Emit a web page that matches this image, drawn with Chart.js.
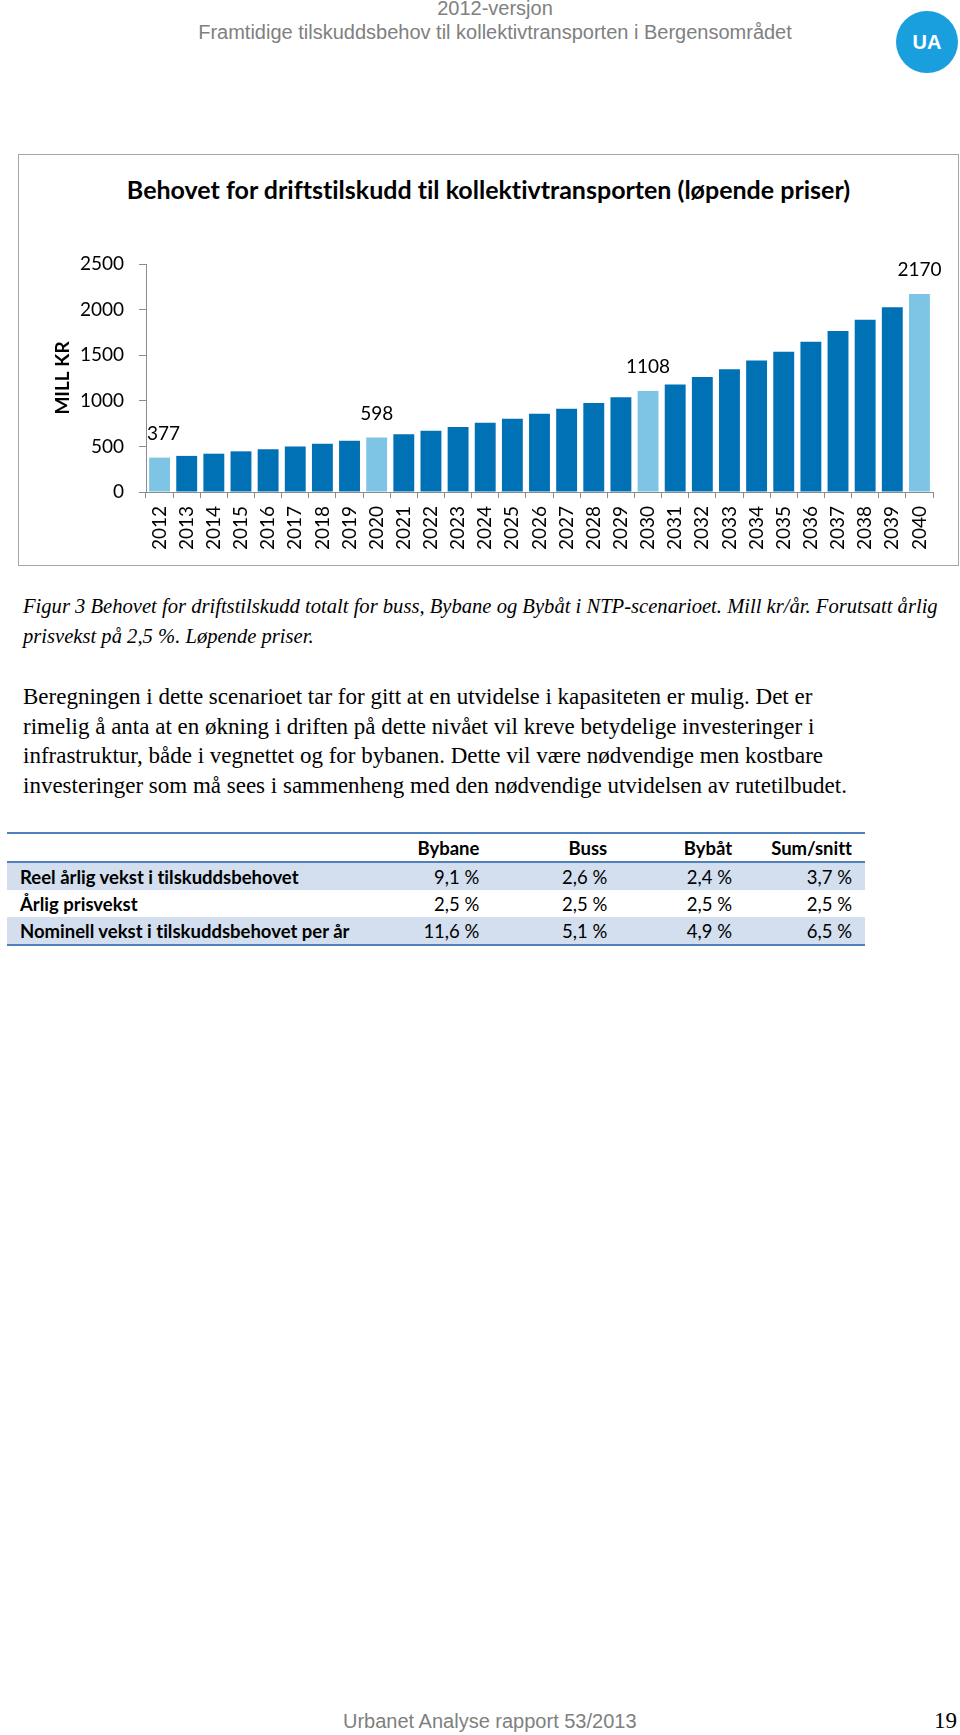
<!DOCTYPE html>
<html>
<head>
<meta charset="utf-8">
<script src="https://cdn.jsdelivr.net/npm/chart.js@4.4.1/dist/chart.umd.min.js"></script>
<style>
  body { margin: 0; width: 960px; height: 1735px; position: relative; background: #fff; overflow: hidden; }
  .hdr { position: absolute; left: 0; width: 990px; text-align: center; color: #808080;
         font-family: 'Liberation Sans Narrow', 'Liberation Sans', Arial, sans-serif; white-space: nowrap; }
  .logo { position: absolute; left: 896px; top: 11px; width: 62px; height: 62px; border-radius: 50%;
          background: #1a9fde; color: #fff; font: bold 20px 'Liberation Sans', Arial, sans-serif;
          line-height: 62px; text-align: center; }
  .chartbox { position: absolute; left: 18px; top: 154px; width: 941px; height: 412px;
              box-sizing: border-box; border: 1px solid #a6a6a6; }
  .chartbox canvas { position: absolute; left: 0; top: 0; }
  .ctitle { position: absolute; left: 0; top: 19px; width: 939px; text-align: center;
            font: bold 25px Lato, sans-serif; line-height: 30px; color: #000; white-space: nowrap;
            font-variant-ligatures: none; }
  .caption { position: absolute; left: 23px; top: 591px; font: italic 20.6px 'Liberation Serif', serif;
             line-height: 30px; color: #000; white-space: nowrap; }
  .body { position: absolute; left: 23px; top: 682px; font: 23px 'Liberation Serif', serif;
          line-height: 29.7px; color: #000; white-space: nowrap; }
  table { position: absolute; left: 7px; top: 832px; border-collapse: collapse; width: 858px;
          font: 18.5px Lato, sans-serif; color: #000; font-variant-ligatures: none; }
  td, th { height: 27px; padding: 0; white-space: nowrap; }
  thead tr { border-top: 2px solid #4f81bd; border-bottom: 2px solid #4f81bd; }
  tbody tr:last-child { border-bottom: 2px solid #4f81bd; }
  tr.band td { background: #d3dfee; }
  td.lbl, th.lbl { font-weight: bold; padding-left: 13px; text-align: left; width: 331px; }
  th { font-weight: bold; text-align: right; }
  td.v { text-align: right; }
  .c1 { width: 125px; padding-right: 6px; }
  .c2 { width: 121px; padding-right: 6px; }
  .c3 { width: 118px; padding-right: 6px; }
  .c4 { width: 113px; padding-right: 13px; }
  .foot { position: absolute; left: 343px; top: 1710px; color: #808080;
          font: 20px 'Liberation Sans Narrow', 'Liberation Sans', Arial, sans-serif; white-space: nowrap; }
  .page { position: absolute; right: 3px; top: 1708px; font: 23px 'Liberation Serif', serif; color: #000; }
</style>
</head>
<body>
<div class="hdr" style="top:-3px; font-size:20px;">2012-versjon</div>
<div class="hdr" style="top:21px; font-size:20px;">Framtidige tilskuddsbehov til kollektivtransporten i Bergensområdet</div>
<div class="logo">UA</div>

<div class="chartbox">
  <div class="ctitle">Behovet for driftstilskudd til kollektivtransporten (løpende priser)</div>
  <canvas id="chart" width="939" height="410"></canvas>
</div>

<div class="caption">Figur 3 Behovet for driftstilskudd totalt for buss, Bybane og Bybåt i NTP-scenarioet. Mill kr/år. Forutsatt årlig<br>prisvekst på 2,5 %. Løpende priser.</div>

<div class="body">Beregningen i dette scenarioet tar for gitt at en utvidelse i kapasiteten er mulig. Det er<br>rimelig å anta at en økning i driften på dette nivået vil kreve betydelige investeringer i<br>infrastruktur, både i vegnettet og for bybanen. Dette vil være nødvendige men kostbare<br>investeringer som må sees i sammenheng med den nødvendige utvidelsen av rutetilbudet.</div>

<table>
  <thead>
    <tr><th class="lbl"></th><th class="c1">Bybane</th><th class="c2">Buss</th><th class="c3">Bybåt</th><th class="c4">Sum/snitt</th></tr>
  </thead>
  <tbody>
    <tr class="band"><td class="lbl">Reel årlig vekst i tilskuddsbehovet</td><td class="v c1">9,1 %</td><td class="v c2">2,6 %</td><td class="v c3">2,4 %</td><td class="v c4">3,7 %</td></tr>
    <tr><td class="lbl">Årlig prisvekst</td><td class="v c1">2,5 %</td><td class="v c2">2,5 %</td><td class="v c3">2,5 %</td><td class="v c4">2,5 %</td></tr>
    <tr class="band"><td class="lbl">Nominell vekst i tilskuddsbehovet per år</td><td class="v c1">11,6 %</td><td class="v c2">5,1 %</td><td class="v c3">4,9 %</td><td class="v c4">6,5 %</td></tr>
  </tbody>
</table>

<div class="foot">Urbanet Analyse rapport 53/2013</div>
<div class="page">19</div>

<script>
// chart data
const years = ['2012', '2013', '2014', '2015', '2016', '2017', '2018', '2019', '2020', '2021',
  '2022', '2023', '2024', '2025', '2026', '2027', '2028', '2029', '2030', '2031',
  '2032', '2033', '2034', '2035', '2036', '2037', '2038', '2039', '2040'];
const subsidy = [377, 396, 420, 446, 469, 498, 528, 563, 598, 633,
  672, 713, 760, 804, 858, 913, 975, 1040, 1108, 1179,
  1262, 1346, 1441, 1539, 1648, 1765, 1889, 2027, 2170];
const markedYears = ['2012', '2020', '2030', '2040'];
const yTicks = [0, 500, 1000, 1500, 2000, 2500];

const darkBlue = '#0071b5';
const lightBlue = '#7ec4e4';
const axisGrey = '#8c8c8c';

const barColors = years.map(y => markedYears.includes(y) ? lightBlue : darkBlue);

// draws the value above the marked years
const valueLabels = {
  id: 'valueLabels',
  afterDatasetsDraw(chart) {
    const ctx = chart.ctx;
    const meta = chart.getDatasetMeta(0);
    ctx.save();
    ctx.font = '19px Lato';
    ctx.fillStyle = '#000';
    ctx.textAlign = 'center';
    ctx.textBaseline = 'middle';
    meta.data.forEach((bar, i) => {
      if (!markedYears.includes(years[i])) return;
      const dx = i === 0 ? 4 : 0;
      ctx.fillText(String(subsidy[i]), bar.x + dx, bar.y - 24);
    });
    ctx.restore();
  }
};

new Chart(document.getElementById('chart'), {
  type: 'bar',
  data: {
    labels: years,
    datasets: [{
      data: subsidy,
      backgroundColor: barColors,
      borderWidth: 0,
      barPercentage: 0.77,
      categoryPercentage: 1
    }]
  },
  options: {
    responsive: false,
    animation: false,
    devicePixelRatio: 1,
    layout: { padding: { top: 109, right: 25, bottom: 0, left: 0 } },
    plugins: { legend: { display: false }, tooltip: { enabled: false } },
    scales: {
      x: {
        ticks: { color: '#000', font: { family: 'Lato', size: 19 }, minRotation: 90, maxRotation: 90, padding: 8, autoSkip: false },
        grid: { offset: true, drawOnChartArea: false, drawTicks: true, tickLength: 6, color: axisGrey },
        border: { color: axisGrey },
        afterFit(scale) { scale.height = 73; }
      },
      y: {
        min: yTicks[0],
        max: yTicks[yTicks.length - 1],
        afterBuildTicks(scale) { scale.ticks = yTicks.map(v => ({ value: v })); },
        ticks: { color: '#000', font: { family: 'Lato', size: 19 }, padding: 15, callback: v => String(v) },
        grid: { drawOnChartArea: false, drawTicks: true, tickLength: 7, color: axisGrey },
        border: { color: axisGrey },
        title: { display: true, text: 'MILL KR', color: '#000', font: { family: 'Lato', size: 19, weight: 'bold' }, padding: { top: 32, bottom: 0 } },
        afterFit(scale) { scale.width = 127; }
      }
    }
  },
  plugins: [valueLabels]
});
</script>
</body>
</html>
